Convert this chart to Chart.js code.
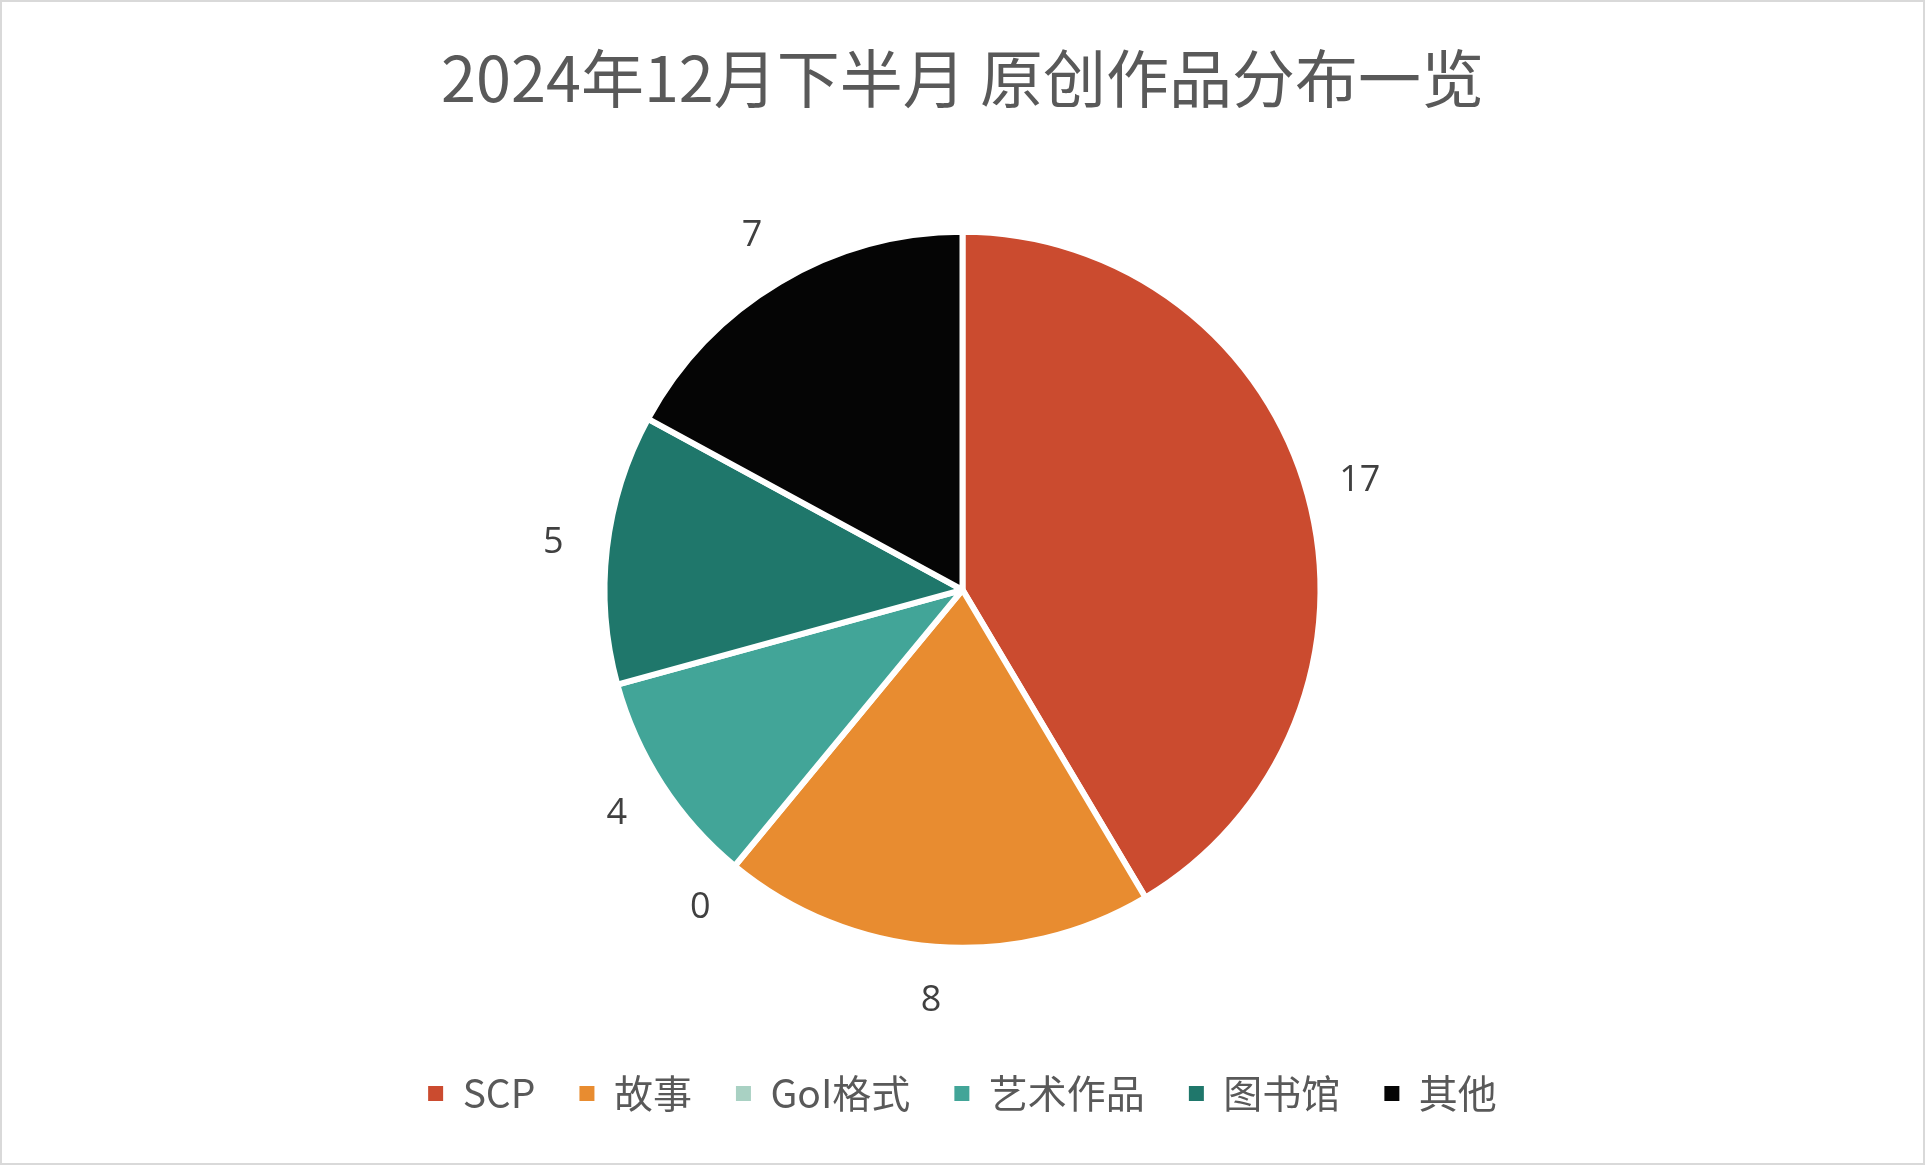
<!DOCTYPE html>
<html>
<head>
<meta charset="utf-8">
<script src="https://cdn.jsdelivr.net/npm/chart.js@4/dist/chart.umd.min.js"></script>
<style>
  html, body { margin: 0; padding: 0; background: #fff; }
  #wrap { width: 1925px; height: 1165px; box-sizing: border-box; border: 2px solid #d9d9d9; position: relative; }
  #myPieChart { display: block; }
</style>
</head>
<body>
<div id="wrap"><canvas id="myPieChart" width="1921" height="1161"></canvas></div>
<script>
const categories = ['SCP', '故事', 'GoI格式', '艺术作品', '图书馆', '其他'];
const counts = [17, 8, 0, 4, 5, 7];
const sliceColors = ['#CB4B2F', '#E88C30', '#A9D1C3', '#42A598', '#1F776B', '#050505'];

// value labels outside each slice
const outsideLabels = {
    id: 'outsideLabels',
    afterDatasetsDraw(chart) {
        const ctx = chart.ctx;
        const meta = chart.getDatasetMeta(0);
        ctx.save();
        ctx.font = '36px "Open Sans", "Noto Sans", sans-serif';
        ctx.fillStyle = '#404040';
        ctx.textAlign = 'center';
        ctx.textBaseline = 'middle';
        meta.data.forEach((arc, i) => {
            const p = arc.getProps(['x', 'y', 'startAngle', 'endAngle', 'outerRadius'], true);
            const mid = (p.startAngle + p.endAngle) / 2;
            const r = p.outerRadius + 54;
            ctx.fillText(String(counts[i]), p.x + Math.cos(mid) * r, p.y + Math.sin(mid) * r);
        });
        ctx.restore();
    }
};

const ctx = document.getElementById('myPieChart').getContext('2d');
const myPieChart = new Chart(ctx, {
    type: 'pie',
    data: {
        labels: categories,
        datasets: [{
            data: counts,
            backgroundColor: sliceColors,
            borderColor: '#FFFFFF',
            borderWidth: 6,
            radius: 358
        }]
    },
    options: {
        responsive: false,
        animation: false,
        layout: { padding: { top: 0, bottom: 40, left: 0, right: 0 } },
        plugins: {
            title: {
                display: true,
                text: '2024年12月下半月 原创作品分布一览',
                color: '#595959',
                font: { family: '"Noto Sans CJK SC", sans-serif', size: 63, weight: 'normal' },
                padding: { top: 38, bottom: 34 }
            },
            legend: {
                display: true,
                position: 'bottom',
                labels: {
                    color: '#595959',
                    font: { family: '"Noto Sans CJK SC", sans-serif', size: 39 },
                    boxWidth: 15,
                    boxHeight: 15,
                    padding: 44,
                    generateLabels(chart) {
                        return Chart.controllers.pie.overrides.plugins.legend.labels
                            .generateLabels(chart)
                            .map(item => Object.assign(item, { lineWidth: 0, strokeStyle: item.fillStyle }));
                    }
                }
            },
            tooltip: { enabled: false }
        }
    },
    plugins: [outsideLabels]
});
</script>
</body>
</html>
